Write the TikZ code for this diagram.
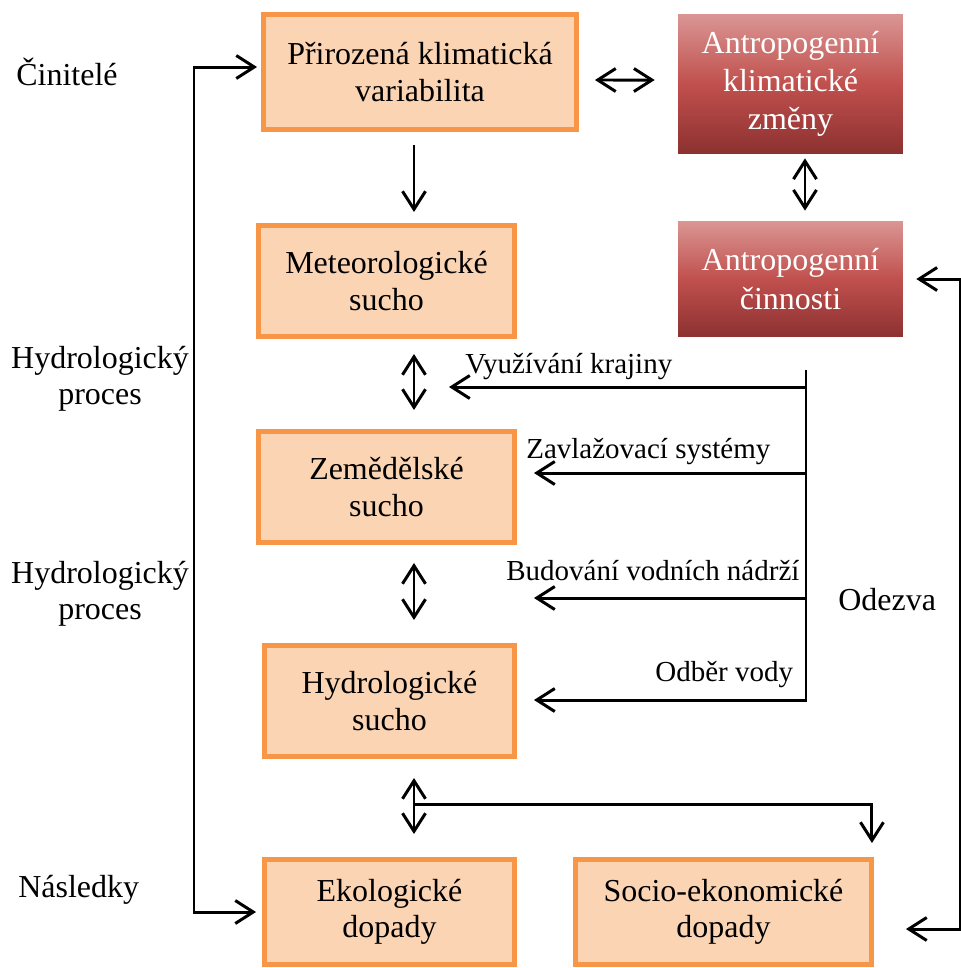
\documentclass[tikz,border=0pt]{standalone}
\usepackage{fontspec}
\setmainfont{Liberation Serif}
\usetikzlibrary{arrows.meta}
\definecolor{boxfill}{HTML}{FBD4B4}
\definecolor{boxline}{HTML}{F79646}
\definecolor{redtop}{HTML}{DA9694}
\definecolor{redmid}{HTML}{C0504D}
\definecolor{redbot}{HTML}{8C3130}
\tikzset{every node/.style={inner sep=0pt,font=\fontsize{18.2}{20.6}\selectfont},
  obox/.style={draw=boxline,fill=boxfill,line width=0.1cm,align=center},
  rbox/.style={top color=redtop,bottom color=redbot,middle color=redmid,text=white,align=center,
    font=\fontsize{18.2}{21.8}\selectfont},
  lbl/.style={font=\fontsize{16.5}{19}\selectfont,anchor=base west},
  side/.style={align=center},
  arr/.style={line width=1.7pt,-{Straight Barb[length=3.6mm,width=4.6mm]}},
  dbl/.style={line width=1.7pt,{Straight Barb[length=3.6mm,width=4.6mm]}-{Straight Barb[length=3.6mm,width=4.6mm]}}}

\begin{document}
\begin{tikzpicture}[x=0.02cm,y=-0.02cm]
      \useasboundingbox (0,0) rectangle (961,968);
      \node[obox,minimum width=6.26cm,minimum height=2.3cm] (prir) at (420,72) {Přirozená klimatická\\variabilita};
      \node[rbox,minimum width=4.5cm,minimum height=2.8cm] (antk) at (790.5,84) {Antropogenní\\klimatické\\změny};
      \node[obox,minimum width=5.12cm,minimum height=2.22cm] (meteo) at (386.5,281) {Meteorologické\\sucho};
      \node[rbox,minimum width=4.5cm,minimum height=2.32cm] (antc) at (790.5,279) {Antropogenní\\činnosti};
      \node[obox,minimum width=5.12cm,minimum height=2.22cm] (zem) at (386.5,487) {Zemědělské\\sucho};
      \node[obox,minimum width=5cm,minimum height=2.22cm] (hydro) at (389.5,701) {Hydrologické\\sucho};
      \node[obox,minimum width=5cm,minimum height=2.1cm] (ekol) at (389.5,912) {Ekologické\\dopady};
      \node[obox,minimum width=5.92cm,minimum height=2.1cm] (socio) at (723.5,912) {Socio-ekonomické\\dopady};

      \node[anchor=base west] (cin) at (16,85) {Činitelé};
      \node[side] (hp1) at (100,379) {Hydrologický\\proces};
      \node[side] (hp2) at (100,594) {Hydrologický\\proces};
      \node[anchor=base west] (nas) at (18,897) {Následky};

      \node[lbl] (tuk) at (465,373) {Využívání krajiny};
      \node[lbl] (tzs) at (526,458) {Zavlažovací systémy};
      \node[lbl] (tbn) at (506,580) {Budování vodních nádrží};
      \node[lbl] (tov) at (655,681) {Odběr vody};
      \node[anchor=base west] (odz) at (838,610) {Odezva};

      \coordinate (col) at (414,0);
      \coordinate (lft) at (194,490);
      \coordinate (rgt) at (960,600);
      \coordinate (brt) at (806,370);
      \coordinate (uk) at (449,387);
      \coordinate (zs) at (534,473);
      \coordinate (bn) at (534,598);
      \coordinate (ov) at (534,700);
      \coordinate (split) at (414,804);

\draw[arr,shorten <=0.26cm,shorten >=0.22cm] (prir.south -| col) -- (meteo.north -| col);
\foreach \a/\b/\s/\t in {meteo/zem/0.3cm/0.38cm,zem/hydro/0.36cm/0.46cm,hydro/ekol/0.38cm/0.46cm}
  \draw[dbl,shorten <=\s,shorten >=\t] (\a.south -| col) -- (\b.north -| col);
\draw[dbl,shorten <=0.32cm,shorten >=0.46cm] ([yshift=-0.16cm]prir.east) -- ([yshift=0.08cm]antk.west);
\draw[dbl,shorten <=0.08cm,shorten >=0.2cm] ([xshift=0.29cm]antk.south) -- ([xshift=0.29cm]antc.north);
\draw[arr,shorten >=0.08cm] (lft) |- ([yshift=0.1cm]prir.west);
\draw[arr,shorten >=0.12cm] (lft) |- (ekol.west);
\draw[dbl,shorten <=0.26cm,shorten >=0.64cm] (antc.east) -| (rgt) |- ([yshift=-0.34cm]socio.east);
\draw[arr,shorten >=0.28cm] (split) -| ([xshift=-0.04cm]socio.north east);
\draw[arr] (brt) |- (ov);
\foreach \c in {uk,zs,bn}
  \draw[arr] (brt |- \c) -- (\c);
    \end{tikzpicture}
\end{document}
